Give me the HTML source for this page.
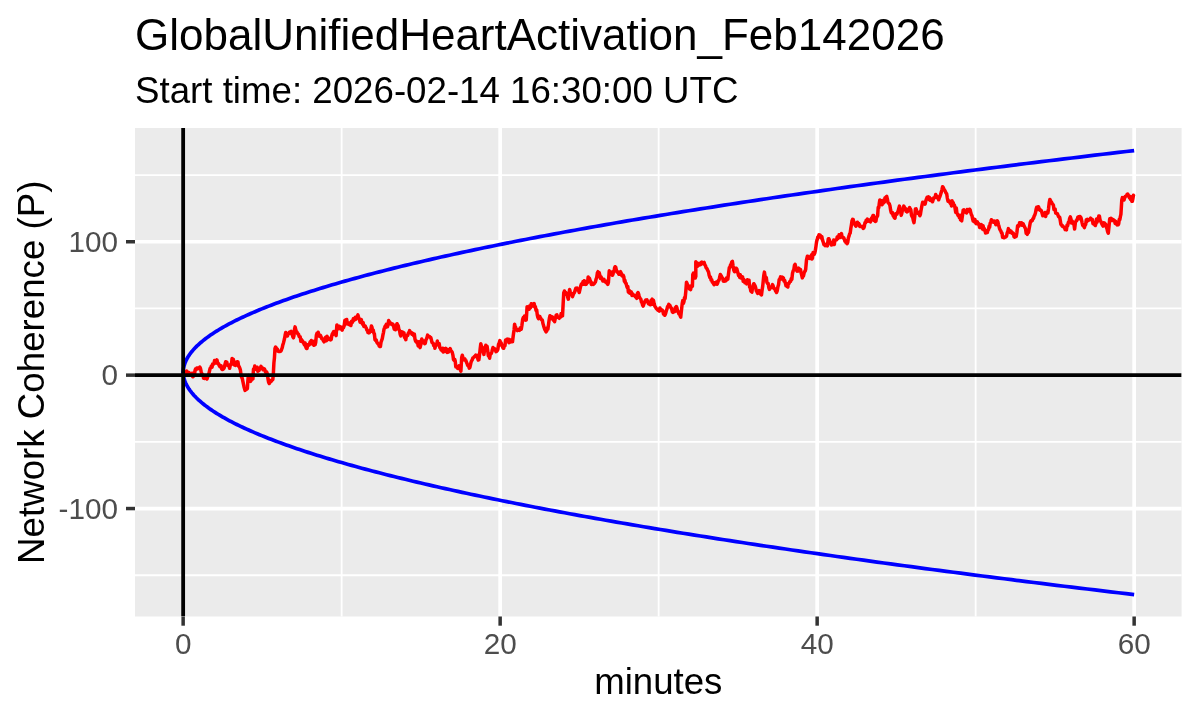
<!DOCTYPE html>
<html><head><meta charset="utf-8"><style>
html,body{margin:0;padding:0;background:#fff;}
svg{display:block;} .wrap{width:1200px;height:720px;will-change:transform;}
text{font-family:"Liberation Sans",sans-serif;}
.ax{font-size:29.7px;fill:#4D4D4D;}
.tt{font-size:44.6px;fill:#000;}
.st{font-size:37.2px;fill:#000;}
</style></head><body>
<div class="wrap"><svg width="1200" height="720" viewBox="0 0 1200 720">
<g>
<rect width="1200" height="720" fill="#fff"/>
<rect x="135.0" y="128.0" width="1046.6" height="488.5" fill="#EBEBEB"/>
<line x1="135.0" x2="1181.6" y1="575.25" y2="575.25" stroke="#fff" stroke-width="1.8"/>
<line x1="135.0" x2="1181.6" y1="441.85" y2="441.85" stroke="#fff" stroke-width="1.8"/>
<line x1="135.0" x2="1181.6" y1="308.45" y2="308.45" stroke="#fff" stroke-width="1.8"/>
<line x1="135.0" x2="1181.6" y1="175.05" y2="175.05" stroke="#fff" stroke-width="1.8"/>
<line y1="128.0" y2="616.5" x1="341.65" x2="341.65" stroke="#fff" stroke-width="1.8"/>
<line y1="128.0" y2="616.5" x1="658.65" x2="658.65" stroke="#fff" stroke-width="1.8"/>
<line y1="128.0" y2="616.5" x1="975.65" x2="975.65" stroke="#fff" stroke-width="1.8"/>
<line x1="135.0" x2="1181.6" y1="508.55" y2="508.55" stroke="#fff" stroke-width="3.7"/>
<line x1="135.0" x2="1181.6" y1="241.75" y2="241.75" stroke="#fff" stroke-width="3.7"/>
<line y1="128.0" y2="616.5" x1="500.15" x2="500.15" stroke="#fff" stroke-width="3.7"/>
<line y1="128.0" y2="616.5" x1="817.15" x2="817.15" stroke="#fff" stroke-width="3.7"/>
<line y1="128.0" y2="616.5" x1="1134.15" x2="1134.15" stroke="#fff" stroke-width="3.7"/>
<defs><clipPath id="cp"><rect x="135.0" y="128.0" width="1046.6" height="488.5"/></clipPath></defs>
<g clip-path="url(#cp)">
<polyline points="183.15,372.80 183.17,371.87 183.22,370.95 183.30,370.02 183.41,369.10 183.56,368.17 183.74,367.24 183.96,366.32 184.21,365.39 184.49,364.47 184.80,363.54 185.15,362.61 185.53,361.69 185.94,360.76 186.39,359.84 186.86,358.91 187.38,357.98 187.92,357.06 188.50,356.13 189.11,355.21 189.75,354.28 190.43,353.35 191.14,352.43 191.88,351.50 192.66,350.58 193.47,349.65 194.31,348.72 195.19,347.80 196.09,346.87 197.04,345.95 198.01,345.02 199.02,344.10 200.06,343.17 201.13,342.24 202.24,341.32 203.38,340.39 204.55,339.47 205.75,338.54 206.99,337.61 208.26,336.69 209.57,335.76 210.90,334.84 212.27,333.91 213.68,332.98 215.11,332.06 216.58,331.13 218.09,330.21 219.62,329.28 221.19,328.35 222.79,327.43 224.43,326.50 226.09,325.58 227.79,324.65 229.53,323.72 231.29,322.80 233.09,321.87 234.93,320.95 236.79,320.02 238.69,319.09 240.62,318.17 242.59,317.24 244.59,316.32 246.62,315.39 248.68,314.46 250.78,313.54 252.91,312.61 255.07,311.69 257.27,310.76 259.49,309.83 261.76,308.91 264.05,307.98 266.38,307.06 268.74,306.13 271.13,305.20 273.56,304.28 276.02,303.35 278.51,302.43 281.04,301.50 283.60,300.57 286.19,299.65 288.82,298.72 291.47,297.80 294.17,296.87 296.89,295.94 299.65,295.02 302.44,294.09 305.26,293.17 308.12,292.24 311.01,291.32 313.93,290.39 316.88,289.46 319.87,288.54 322.89,287.61 325.95,286.69 329.04,285.76 332.16,284.83 335.31,283.91 338.50,282.98 341.72,282.06 344.97,281.13 348.25,280.20 351.57,279.28 354.92,278.35 358.31,277.43 361.73,276.50 365.18,275.57 368.66,274.65 372.18,273.72 375.73,272.80 379.31,271.87 382.93,270.94 386.57,270.02 390.26,269.09 393.97,268.17 397.72,267.24 401.50,266.31 405.31,265.39 409.16,264.46 413.04,263.54 416.95,262.61 420.90,261.68 424.88,260.76 428.89,259.83 432.94,258.91 437.01,257.98 441.13,257.05 445.27,256.13 449.45,255.20 453.66,254.28 457.90,253.35 462.18,252.42 466.49,251.50 470.83,250.57 475.20,249.65 479.61,248.72 484.05,247.79 488.53,246.87 493.03,245.94 497.57,245.02 502.15,244.09 506.75,243.16 511.39,242.24 516.07,241.31 520.77,240.39 525.51,239.46 530.28,238.53 535.09,237.61 539.92,236.68 544.79,235.76 549.70,234.83 554.63,233.91 559.60,232.98 564.61,232.05 569.64,231.13 574.71,230.20 579.81,229.28 584.95,228.35 590.12,227.42 595.32,226.50 600.55,225.57 605.82,224.65 611.12,223.72 616.45,222.79 621.82,221.87 627.21,220.94 632.65,220.02 638.11,219.09 643.61,218.16 649.14,217.24 654.70,216.31 660.30,215.39 665.93,214.46 671.59,213.53 677.29,212.61 683.02,211.68 688.78,210.76 694.58,209.83 700.40,208.90 706.27,207.98 712.16,207.05 718.09,206.13 724.05,205.20 730.04,204.27 736.07,203.35 742.13,202.42 748.22,201.50 754.34,200.57 760.50,199.64 766.69,198.72 772.92,197.79 779.18,196.87 785.47,195.94 791.79,195.01 798.15,194.09 804.54,193.16 810.96,192.24 817.41,191.31 823.90,190.38 830.42,189.46 836.98,188.53 843.57,187.61 850.19,186.68 856.84,185.75 863.53,184.83 870.25,183.90 877.00,182.98 883.79,182.05 890.60,181.13 897.46,180.20 904.34,179.27 911.26,178.35 918.21,177.42 925.19,176.50 932.21,175.57 939.26,174.64 946.34,173.72 953.46,172.79 960.61,171.87 967.79,170.94 975.01,170.01 982.25,169.09 989.54,168.16 996.85,167.24 1004.20,166.31 1011.58,165.38 1018.99,164.46 1026.44,163.53 1033.92,162.61 1041.43,161.68 1048.97,160.75 1056.55,159.83 1064.16,158.90 1071.81,157.98 1079.48,157.05 1087.19,156.12 1094.94,155.20 1102.71,154.27 1110.52,153.35 1118.37,152.42 1126.24,151.49 1134.15,150.57" fill="none" stroke="#0000FF" stroke-width="3.7" stroke-linejoin="round" stroke-linecap="butt"/>
<polyline points="183.15,371.50 183.17,372.43 183.22,373.36 183.30,374.29 183.41,375.22 183.56,376.15 183.74,377.08 183.96,378.01 184.21,378.94 184.49,379.87 184.80,380.80 185.15,381.72 185.53,382.65 185.94,383.58 186.39,384.51 186.86,385.44 187.38,386.37 187.92,387.30 188.50,388.23 189.11,389.16 189.75,390.09 190.43,391.02 191.14,391.95 191.88,392.88 192.66,393.81 193.47,394.74 194.31,395.67 195.19,396.60 196.09,397.53 197.04,398.46 198.01,399.39 199.02,400.31 200.06,401.24 201.13,402.17 202.24,403.10 203.38,404.03 204.55,404.96 205.75,405.89 206.99,406.82 208.26,407.75 209.57,408.68 210.90,409.61 212.27,410.54 213.68,411.47 215.11,412.40 216.58,413.33 218.09,414.26 219.62,415.19 221.19,416.12 222.79,417.05 224.43,417.98 226.09,418.91 227.79,419.83 229.53,420.76 231.29,421.69 233.09,422.62 234.93,423.55 236.79,424.48 238.69,425.41 240.62,426.34 242.59,427.27 244.59,428.20 246.62,429.13 248.68,430.06 250.78,430.99 252.91,431.92 255.07,432.85 257.27,433.78 259.49,434.71 261.76,435.64 264.05,436.57 266.38,437.50 268.74,438.43 271.13,439.35 273.56,440.28 276.02,441.21 278.51,442.14 281.04,443.07 283.60,444.00 286.19,444.93 288.82,445.86 291.47,446.79 294.17,447.72 296.89,448.65 299.65,449.58 302.44,450.51 305.26,451.44 308.12,452.37 311.01,453.30 313.93,454.23 316.88,455.16 319.87,456.09 322.89,457.02 325.95,457.94 329.04,458.87 332.16,459.80 335.31,460.73 338.50,461.66 341.72,462.59 344.97,463.52 348.25,464.45 351.57,465.38 354.92,466.31 358.31,467.24 361.73,468.17 365.18,469.10 368.66,470.03 372.18,470.96 375.73,471.89 379.31,472.82 382.93,473.75 386.57,474.68 390.26,475.61 393.97,476.54 397.72,477.46 401.50,478.39 405.31,479.32 409.16,480.25 413.04,481.18 416.95,482.11 420.90,483.04 424.88,483.97 428.89,484.90 432.94,485.83 437.01,486.76 441.13,487.69 445.27,488.62 449.45,489.55 453.66,490.48 457.90,491.41 462.18,492.34 466.49,493.27 470.83,494.20 475.20,495.13 479.61,496.06 484.05,496.98 488.53,497.91 493.03,498.84 497.57,499.77 502.15,500.70 506.75,501.63 511.39,502.56 516.07,503.49 520.77,504.42 525.51,505.35 530.28,506.28 535.09,507.21 539.92,508.14 544.79,509.07 549.70,510.00 554.63,510.93 559.60,511.86 564.61,512.79 569.64,513.72 574.71,514.65 579.81,515.57 584.95,516.50 590.12,517.43 595.32,518.36 600.55,519.29 605.82,520.22 611.12,521.15 616.45,522.08 621.82,523.01 627.21,523.94 632.65,524.87 638.11,525.80 643.61,526.73 649.14,527.66 654.70,528.59 660.30,529.52 665.93,530.45 671.59,531.38 677.29,532.31 683.02,533.24 688.78,534.17 694.58,535.09 700.40,536.02 706.27,536.95 712.16,537.88 718.09,538.81 724.05,539.74 730.04,540.67 736.07,541.60 742.13,542.53 748.22,543.46 754.34,544.39 760.50,545.32 766.69,546.25 772.92,547.18 779.18,548.11 785.47,549.04 791.79,549.97 798.15,550.90 804.54,551.83 810.96,552.76 817.41,553.69 823.90,554.61 830.42,555.54 836.98,556.47 843.57,557.40 850.19,558.33 856.84,559.26 863.53,560.19 870.25,561.12 877.00,562.05 883.79,562.98 890.60,563.91 897.46,564.84 904.34,565.77 911.26,566.70 918.21,567.63 925.19,568.56 932.21,569.49 939.26,570.42 946.34,571.35 953.46,572.28 960.61,573.20 967.79,574.13 975.01,575.06 982.25,575.99 989.54,576.92 996.85,577.85 1004.20,578.78 1011.58,579.71 1018.99,580.64 1026.44,581.57 1033.92,582.50 1041.43,583.43 1048.97,584.36 1056.55,585.29 1064.16,586.22 1071.81,587.15 1079.48,588.08 1087.19,589.01 1094.94,589.94 1102.71,590.87 1110.52,591.80 1118.37,592.72 1126.24,593.65 1134.15,594.58" fill="none" stroke="#0000FF" stroke-width="3.7" stroke-linejoin="round" stroke-linecap="butt"/>
<polyline points="183.00,375.00 183.60,374.09 184.20,374.41 184.80,372.93 185.40,372.22 186.00,372.00 186.60,370.98 187.20,371.94 187.80,373.63 188.40,372.91 189.00,372.50 189.61,374.29 190.23,373.88 190.84,374.60 191.46,374.89 192.07,373.22 192.69,376.78 193.30,376.30 193.90,375.53 194.50,374.14 195.10,370.13 195.70,368.69 196.30,369.40 196.88,367.95 197.47,368.07 198.05,368.62 198.63,367.81 199.22,368.11 199.80,367.10 200.45,368.33 201.10,371.47 201.75,373.57 202.40,375.10 202.97,374.79 203.55,378.14 204.12,377.23 204.70,378.49 205.28,376.79 205.85,377.14 206.43,378.10 207.00,379.00 207.63,376.96 208.27,375.93 208.90,373.55 209.53,370.80 210.17,368.27 210.80,367.50 211.43,366.01 212.05,367.24 212.68,363.94 213.30,364.34 213.93,363.70 214.55,360.54 215.18,361.52 215.80,360.60 216.38,363.00 216.97,359.85 217.55,362.71 218.13,363.81 218.72,363.79 219.30,365.60 219.92,366.83 220.53,366.79 221.15,365.74 221.77,369.13 222.38,369.57 223.00,369.40 223.68,368.64 224.35,367.33 225.02,364.13 225.70,361.80 226.26,362.87 226.81,362.10 227.37,365.32 227.93,364.78 228.49,365.90 229.04,365.85 229.60,368.30 230.22,365.30 230.84,363.98 231.46,364.33 232.08,358.50 232.70,359.10 233.33,359.38 233.97,363.45 234.60,365.20 235.35,365.43 236.10,362.20 236.72,363.79 237.34,361.72 237.96,361.88 238.58,366.23 239.20,366.70 239.80,368.12 240.40,369.96 241.00,374.77 241.60,377.22 242.20,378.20 242.77,380.96 243.35,383.64 243.93,386.45 244.50,388.50 245.08,390.41 245.66,389.24 246.24,389.12 246.82,389.16 247.40,388.50 247.90,380.12 248.40,375.50 249.15,379.54 249.90,380.50 250.50,381.35 251.10,380.54 251.70,377.23 252.30,378.54 252.90,379.00 253.50,369.00 254.12,369.64 254.75,366.08 255.38,367.65 256.00,367.50 256.60,369.34 257.20,367.17 257.80,371.29 258.40,370.64 259.00,370.60 259.67,369.02 260.33,368.19 261.00,366.40 261.65,367.83 262.30,367.84 262.95,369.72 263.60,369.00 264.22,368.83 264.84,369.74 265.46,372.11 266.08,371.51 266.70,372.10 267.35,373.89 268.00,378.94 268.65,382.41 269.30,383.50 269.88,382.33 270.47,380.58 271.05,381.44 271.63,380.79 272.22,379.98 272.80,379.70 273.35,373.56 273.90,362.82 274.45,357.74 275.00,348.40 275.60,347.08 276.20,347.86 276.80,349.76 277.40,349.20 277.97,351.13 278.55,351.38 279.12,351.34 279.70,351.50 280.40,351.32 281.10,350.80 281.68,349.08 282.25,347.69 282.82,344.89 283.40,343.20 283.97,340.86 284.55,338.54 285.12,335.18 285.70,332.50 286.27,333.79 286.85,333.93 287.43,336.04 288.00,334.00 288.62,333.87 289.24,332.45 289.86,331.99 290.48,331.90 291.10,331.40 291.68,334.11 292.25,334.20 292.82,336.66 293.40,337.80 293.95,335.80 294.50,329.40 295.07,326.90 295.65,329.20 296.23,331.42 296.80,331.70 297.38,333.14 297.95,333.91 298.52,334.07 299.10,336.34 299.68,336.85 300.25,336.85 300.82,341.35 301.40,339.40 302.02,340.96 302.65,341.01 303.27,342.69 303.90,343.68 304.52,345.01 305.15,342.95 305.77,346.78 306.40,348.50 307.03,348.58 307.67,344.83 308.30,345.02 308.93,345.11 309.57,343.86 310.20,341.70 310.81,343.86 311.43,340.41 312.04,342.40 312.65,342.79 313.26,344.32 313.88,345.26 314.49,341.11 315.10,344.70 315.73,342.21 316.37,335.36 317.00,333.30 317.58,334.50 318.17,332.28 318.75,334.66 319.33,336.27 319.92,335.04 320.50,335.60 321.10,336.89 321.70,338.68 322.30,338.95 322.90,339.73 323.50,340.90 324.07,341.79 324.65,340.26 325.23,337.70 325.80,337.10 326.40,340.65 327.00,336.23 327.60,338.96 328.20,337.80 328.80,338.54 329.40,339.48 330.00,339.16 330.60,339.91 331.20,339.40 331.77,335.64 332.35,333.74 332.93,334.36 333.50,331.70 334.15,331.52 334.80,332.42 335.45,332.86 336.10,335.60 336.90,324.90 337.48,327.05 338.07,327.06 338.65,328.57 339.23,326.31 339.82,328.07 340.40,328.70 341.00,327.17 341.60,329.30 342.20,330.13 342.80,326.99 343.40,327.90 344.15,325.97 344.90,320.30 345.50,322.00 346.10,321.11 346.70,319.47 347.30,324.03 347.90,322.74 348.50,322.64 349.10,324.36 349.70,324.88 350.30,324.90 350.90,325.48 351.50,321.24 352.10,322.60 352.70,321.80 353.30,318.80 353.92,320.38 354.54,318.26 355.16,317.43 355.78,319.38 356.40,318.00 357.15,316.59 357.90,314.90 358.65,317.35 359.40,319.50 360.04,322.19 360.68,321.14 361.32,319.68 361.96,322.96 362.60,324.40 363.22,322.72 363.84,326.46 364.46,326.40 365.08,325.83 365.70,327.10 366.27,328.04 366.83,330.00 367.40,330.04 367.97,332.49 368.53,331.78 369.10,332.80 369.68,332.35 370.25,331.19 370.82,329.63 371.40,326.00 372.00,327.27 372.60,331.20 373.20,329.96 373.80,332.99 374.40,334.00 375.00,339.71 375.60,340.50 376.20,339.89 376.80,342.23 377.40,342.88 378.00,343.95 378.60,344.15 379.20,346.01 379.80,346.60 380.42,346.45 381.04,342.05 381.66,340.34 382.28,338.60 382.90,335.10 383.47,332.59 384.05,329.04 384.62,327.61 385.20,326.00 385.77,327.46 386.35,324.37 386.93,325.81 387.50,326.70 388.05,324.86 388.60,320.60 389.22,322.31 389.84,322.13 390.46,323.85 391.08,323.84 391.70,324.40 392.33,323.89 392.97,324.32 393.60,326.33 394.23,329.11 394.87,328.22 395.50,329.80 396.25,325.67 397.00,323.70 397.63,324.81 398.27,325.93 398.90,329.66 399.53,330.42 400.17,334.30 400.80,335.90 401.43,331.80 402.07,333.76 402.70,332.10 403.32,332.85 403.94,332.81 404.56,337.53 405.18,337.85 405.80,339.70 406.43,335.51 407.07,335.62 407.70,335.50 408.33,333.08 408.97,333.05 409.60,330.60 410.18,332.00 410.77,332.40 411.35,332.49 411.93,334.20 412.52,333.89 413.10,333.60 413.73,335.67 414.37,334.17 415.00,339.28 415.63,341.30 416.27,340.91 416.90,342.80 417.53,342.62 418.17,345.90 418.80,341.84 419.43,344.90 420.07,347.63 420.70,345.10 421.25,340.94 421.80,339.00 422.38,340.53 422.97,342.66 423.55,340.96 424.13,342.47 424.72,343.58 425.30,343.20 425.88,340.09 426.45,339.04 427.03,337.48 427.60,335.10 428.25,336.67 428.90,336.21 429.55,336.59 430.20,337.40 430.78,337.53 431.37,339.67 431.95,342.52 432.53,342.92 433.12,343.13 433.70,345.50 434.30,344.22 434.90,348.15 435.50,346.04 436.10,344.40 436.72,345.02 437.34,341.01 437.96,344.73 438.58,344.42 439.20,343.70 439.83,347.75 440.47,348.28 441.10,349.80 441.67,349.97 442.23,350.93 442.80,348.22 443.37,352.04 443.93,351.44 444.50,351.30 445.10,348.96 445.70,348.30 446.35,350.84 447.00,352.37 447.65,349.47 448.30,352.10 448.93,350.13 449.57,350.12 450.20,348.60 450.88,350.45 451.55,351.37 452.22,352.31 452.90,355.10 453.48,359.56 454.07,360.18 454.65,359.42 455.23,361.15 455.82,366.73 456.40,366.60 457.05,367.59 457.70,368.39 458.35,366.97 459.00,365.80 459.63,366.55 460.27,369.71 460.90,371.20 461.70,357.40 462.30,355.25 462.90,357.39 463.50,358.66 464.10,359.80 464.70,358.74 465.30,359.91 465.90,360.50 466.47,362.32 467.03,363.49 467.60,365.07 468.17,365.82 468.73,366.44 469.30,368.10 469.88,367.40 470.47,364.86 471.05,362.16 471.63,360.75 472.22,359.85 472.80,358.20 473.40,357.45 474.00,357.15 474.60,356.34 475.20,355.93 475.80,355.10 476.42,355.86 477.04,355.43 477.66,358.37 478.28,360.04 478.90,359.70 479.53,354.89 480.17,348.81 480.80,343.70 481.42,346.38 482.04,346.82 482.66,347.84 483.28,352.33 483.90,354.40 484.53,350.22 485.17,349.15 485.80,345.20 486.43,346.07 487.07,346.38 487.70,350.45 488.33,355.76 488.97,355.58 489.60,358.20 490.17,354.77 490.73,353.72 491.30,353.48 491.87,351.66 492.43,349.50 493.00,347.50 493.60,349.72 494.20,349.23 494.80,348.80 495.40,349.99 496.00,351.70 496.60,351.32 497.20,350.60 497.88,349.33 498.55,344.30 499.22,342.92 499.90,340.60 500.53,342.76 501.17,342.81 501.80,345.73 502.43,346.45 503.07,348.11 503.70,348.30 504.33,345.25 504.97,345.76 505.60,339.90 506.28,341.21 506.95,339.29 507.62,339.48 508.30,339.20 508.90,342.67 509.50,339.50 510.10,341.32 510.70,341.81 511.30,340.99 511.90,339.94 512.50,341.70 513.02,337.55 513.55,333.38 514.08,329.93 514.60,324.20 515.12,326.59 515.65,327.13 516.18,329.57 516.70,330.00 517.27,330.55 517.84,330.05 518.41,329.77 518.98,329.31 519.54,330.32 520.11,328.13 520.68,328.55 521.25,329.20 521.93,325.31 522.62,319.64 523.30,317.50 523.89,317.48 524.48,316.09 525.07,318.18 525.66,320.18 526.25,320.00 527.10,306.70 527.62,308.00 528.15,307.88 528.68,308.30 529.20,309.20 529.88,305.68 530.57,307.76 531.25,303.75 531.84,304.79 532.44,305.90 533.03,303.96 533.62,305.21 534.21,303.67 534.81,307.22 535.40,306.70 536.02,310.52 536.65,309.82 537.27,314.74 537.90,317.50 538.53,318.67 539.17,316.22 539.80,316.56 540.43,317.89 541.07,318.83 541.70,320.00 542.32,320.05 542.93,323.50 543.55,325.50 544.17,327.69 544.78,329.51 545.40,330.40 546.02,331.90 546.65,331.20 547.27,327.93 547.90,329.20 548.42,325.24 548.95,321.23 549.48,317.86 550.00,315.80 550.58,316.44 551.15,317.28 551.73,318.60 552.30,316.85 552.88,318.00 553.45,320.20 554.02,320.72 554.60,321.70 555.15,319.09 555.70,317.16 556.25,315.00 556.84,314.75 557.43,317.16 558.02,317.41 558.61,317.53 559.20,318.30 559.86,316.99 560.52,317.09 561.18,313.53 561.84,315.12 562.50,315.80 563.12,304.39 563.75,292.90 564.43,290.96 565.12,292.87 565.80,292.50 566.42,294.35 567.05,294.20 567.67,297.22 568.30,299.20 568.95,294.02 569.60,289.60 570.18,291.57 570.76,293.17 571.34,293.82 571.92,294.26 572.50,296.70 573.16,294.85 573.82,293.26 574.48,292.54 575.14,290.33 575.80,288.30 576.37,288.13 576.93,288.07 577.50,289.95 578.07,290.21 578.63,290.47 579.20,292.50 579.90,289.59 580.60,286.38 581.30,284.20 581.89,283.65 582.48,283.47 583.07,281.66 583.66,284.27 584.25,280.80 584.93,281.55 585.62,284.39 586.30,284.20 586.92,282.87 587.55,282.59 588.17,276.92 588.80,278.30 589.43,278.23 590.07,280.26 590.70,281.52 591.33,284.44 591.97,282.85 592.60,283.30 593.18,284.52 593.76,283.58 594.34,283.48 594.92,282.63 595.50,281.70 596.12,279.01 596.75,277.31 597.38,272.91 598.00,271.70 598.60,274.19 599.20,272.62 599.80,275.21 600.40,278.53 601.00,276.79 601.60,278.15 602.20,279.20 602.82,281.01 603.43,280.06 604.05,279.48 604.67,281.18 605.28,281.98 605.90,281.70 606.52,282.75 607.15,281.17 607.77,284.40 608.40,282.50 609.25,270.80 609.88,273.37 610.50,271.96 611.12,272.82 611.75,272.55 612.38,275.33 613.00,274.20 613.52,271.48 614.05,271.26 614.58,268.00 615.10,266.70 615.72,267.12 616.33,270.06 616.95,272.05 617.57,271.69 618.18,272.14 618.80,274.20 619.37,274.34 619.93,272.47 620.50,271.70 621.16,273.07 621.82,275.53 622.48,276.06 623.14,275.08 623.80,276.70 624.37,281.24 624.93,280.30 625.50,283.04 626.07,283.12 626.63,285.65 627.20,287.50 627.78,286.56 628.36,291.96 628.94,292.62 629.52,290.68 630.10,293.30 630.72,291.78 631.33,291.92 631.95,295.56 632.57,293.88 633.18,294.64 633.80,295.00 634.39,295.28 634.98,296.17 635.57,295.67 636.16,297.67 636.75,298.30 637.38,293.67 638.00,292.50 638.58,293.98 639.15,296.00 639.73,297.75 640.30,298.47 640.88,299.23 641.45,302.07 642.02,302.86 642.60,305.00 643.22,306.05 643.83,304.25 644.45,302.36 645.07,301.10 645.68,299.99 646.30,300.00 646.89,299.72 647.48,301.26 648.07,302.87 648.66,303.98 649.25,304.20 649.84,303.88 650.43,304.72 651.02,300.35 651.61,300.22 652.20,299.20 652.83,304.20 653.45,300.26 654.08,303.52 654.70,305.80 655.28,306.84 655.86,307.67 656.44,308.81 657.02,308.87 657.60,310.00 658.19,310.50 658.77,310.18 659.36,311.10 659.94,307.96 660.53,309.22 661.11,310.34 661.70,310.40 662.30,310.14 662.90,311.11 663.50,314.09 664.10,313.54 664.70,315.30 665.28,314.30 665.86,312.67 666.44,310.39 667.02,308.87 667.60,306.50 668.20,306.12 668.80,304.31 669.40,305.71 670.00,305.50 670.58,307.41 671.16,307.58 671.74,309.46 672.32,311.84 672.90,312.30 673.47,310.28 674.03,311.13 674.60,311.64 675.17,307.77 675.73,307.64 676.30,306.50 676.93,307.85 677.56,311.41 678.19,311.47 678.81,313.69 679.44,313.31 680.07,315.65 680.70,317.20 681.45,310.39 682.20,303.60 682.78,300.49 683.36,303.37 683.94,301.74 684.52,297.58 685.10,298.70 685.80,291.34 686.50,282.20 687.08,283.40 687.66,285.46 688.24,286.72 688.82,285.84 689.40,289.00 690.00,288.17 690.60,289.63 691.20,286.57 691.80,285.45 692.40,286.10 692.80,274.40 693.40,273.17 694.00,273.73 694.60,276.00 695.20,278.03 695.80,276.40 695.80,261.80 696.38,262.90 696.96,263.25 697.54,266.22 698.12,263.50 698.70,264.70 699.30,263.65 699.90,264.86 700.50,264.65 701.10,262.53 701.70,262.11 702.30,263.62 702.90,263.33 703.50,262.80 704.15,262.37 704.80,264.82 705.45,265.55 706.10,267.89 706.75,268.33 707.40,269.60 708.01,271.07 708.62,272.33 709.24,275.59 709.85,277.57 710.46,277.03 711.07,280.07 711.69,279.72 712.30,282.20 712.90,282.54 713.50,283.60 714.10,284.77 714.70,282.74 715.30,283.36 715.90,283.94 716.50,282.15 717.10,284.20 717.75,282.75 718.40,280.46 719.05,280.25 719.70,276.98 720.35,274.49 721.00,275.40 721.58,276.61 722.16,278.03 722.74,278.22 723.32,281.11 723.90,281.20 724.55,280.56 725.20,279.84 725.85,280.82 726.50,278.05 727.15,278.80 727.80,279.30 728.55,273.43 729.30,267.60 729.92,267.38 730.54,264.92 731.16,264.25 731.78,261.85 732.40,261.40 733.10,266.11 733.80,270.10 734.42,271.62 735.05,268.33 735.67,271.51 736.30,268.20 736.87,268.96 737.43,271.29 738.00,273.01 738.57,275.56 739.13,274.38 739.70,277.40 740.28,274.78 740.86,277.93 741.44,278.05 742.02,277.75 742.60,276.90 743.18,281.24 743.76,279.51 744.34,280.74 744.92,282.74 745.50,282.80 746.10,282.74 746.70,283.80 747.30,279.81 747.90,280.80 748.47,282.13 749.03,280.23 749.60,287.12 750.17,287.49 750.73,290.83 751.30,291.50 751.92,292.13 752.55,287.59 753.17,285.34 753.80,283.70 754.43,284.72 755.07,285.93 755.70,287.79 756.33,290.93 756.97,291.83 757.60,293.40 758.35,292.03 759.10,290.50 759.70,291.39 760.30,293.80 760.90,294.39 761.50,294.90 762.08,290.17 762.66,286.58 763.24,281.04 763.82,275.28 764.40,272.10 765.03,276.06 765.66,277.09 766.29,277.59 766.91,282.25 767.54,283.59 768.17,283.51 768.80,287.60 769.43,289.33 770.06,287.60 770.69,288.07 771.31,287.04 771.94,286.42 772.57,284.54 773.20,286.20 773.77,288.42 774.33,288.34 774.90,289.01 775.47,290.82 776.03,291.54 776.60,292.50 777.25,290.71 777.90,286.85 778.55,284.66 779.20,279.53 779.85,278.99 780.50,276.90 781.08,277.91 781.66,278.90 782.24,277.06 782.82,277.55 783.40,277.90 784.05,281.25 784.70,280.41 785.35,283.13 786.00,285.71 786.65,285.20 787.30,286.60 787.86,286.97 788.41,283.55 788.97,283.55 789.53,282.11 790.09,281.24 790.64,281.36 791.20,278.90 791.85,279.33 792.50,273.23 793.15,270.91 793.80,269.76 794.45,265.47 795.10,264.30 795.73,267.16 796.37,269.52 797.00,271.10 797.58,270.39 798.16,270.98 798.74,268.10 799.32,270.49 799.90,269.20 800.50,269.52 801.10,272.71 801.70,275.06 802.30,277.90 802.87,275.97 803.43,276.03 804.00,273.65 804.57,271.62 805.13,271.30 805.70,269.20 806.50,260.00 807.40,256.20 807.97,258.26 808.53,256.54 809.10,257.14 809.67,258.35 810.23,257.35 810.80,257.20 811.36,255.10 811.91,259.07 812.47,258.18 813.03,252.59 813.59,254.37 814.14,254.36 814.70,253.30 815.33,250.56 815.97,246.30 816.60,241.60 817.20,239.57 817.80,236.94 818.40,236.62 819.00,234.80 819.57,236.86 820.13,235.13 820.70,236.02 821.27,238.04 821.83,236.56 822.40,239.70 823.15,241.84 823.90,244.60 824.47,244.31 825.03,245.61 825.60,244.46 826.17,244.47 826.73,245.29 827.30,246.00 827.80,242.29 828.30,238.70 828.91,238.75 829.53,240.40 830.14,242.13 830.76,243.49 831.37,244.96 831.99,242.82 832.60,244.60 833.17,243.28 833.73,239.99 834.30,244.43 834.87,240.46 835.43,240.48 836.00,239.70 836.61,239.78 837.23,236.97 837.84,238.61 838.45,237.47 839.06,234.76 839.67,236.75 840.29,237.28 840.90,235.30 841.48,233.56 842.06,237.27 842.64,237.05 843.22,237.87 843.80,237.80 844.37,239.30 844.93,241.30 845.50,240.43 846.07,242.71 846.63,242.14 847.20,243.60 847.80,242.05 848.40,237.77 849.00,236.19 849.60,233.90 850.20,233.06 850.80,228.59 851.40,224.95 852.00,220.85 852.60,219.30 853.17,219.49 853.73,221.80 854.30,223.83 854.87,224.34 855.43,225.60 856.00,226.10 856.70,224.10 857.40,222.20 857.98,224.60 858.56,223.29 859.14,223.88 859.72,226.39 860.30,226.10 860.87,226.49 861.43,226.40 862.00,226.36 862.57,227.06 863.13,228.43 863.70,228.00 864.33,226.50 864.95,222.70 865.58,222.74 866.20,220.30 866.80,220.51 867.40,219.10 868.00,221.23 868.60,219.96 869.20,219.90 869.80,221.25 870.40,221.88 871.00,220.30 871.67,217.84 872.33,217.56 873.00,215.40 873.58,215.51 874.16,220.50 874.74,218.29 875.32,221.47 875.90,221.20 876.48,217.70 877.06,216.73 877.64,215.70 878.22,207.27 878.80,207.60 879.30,203.23 879.80,199.90 880.38,201.05 880.97,200.89 881.55,200.75 882.13,204.68 882.72,202.75 883.30,203.20 883.87,200.09 884.43,201.96 885.00,197.73 885.57,200.05 886.13,196.84 886.70,196.40 887.35,198.84 888.00,202.45 888.65,203.34 889.30,203.80 889.95,205.70 890.60,210.00 891.23,212.59 891.86,213.23 892.49,212.54 893.11,215.72 893.74,216.45 894.37,217.81 895.00,218.20 895.65,213.79 896.30,214.44 896.95,214.18 897.60,212.28 898.25,210.76 898.90,208.00 899.48,206.13 900.06,210.36 900.64,211.83 901.22,215.38 901.80,213.40 902.47,209.82 903.13,208.14 903.80,206.10 904.37,207.11 904.93,209.10 905.50,208.47 906.07,211.34 906.63,209.99 907.20,211.90 907.80,211.15 908.40,209.12 909.00,208.86 909.60,207.60 910.23,208.91 910.86,209.97 911.49,215.34 912.11,216.54 912.74,217.64 913.37,220.70 914.00,222.60 914.70,216.99 915.40,209.00 916.03,208.80 916.66,210.81 917.29,212.56 917.91,213.52 918.54,213.45 919.17,212.30 919.80,215.80 920.38,214.57 920.96,210.75 921.54,207.66 922.12,204.59 922.70,202.20 923.30,203.02 923.90,202.69 924.50,202.47 925.10,204.20 925.77,201.05 926.43,198.95 927.10,197.40 927.70,197.09 928.30,196.86 928.90,199.44 929.50,197.53 930.10,200.32 930.70,198.73 931.30,200.80 931.90,200.80 932.53,201.75 933.16,199.64 933.79,197.82 934.41,198.06 935.04,197.48 935.67,194.52 936.30,195.90 936.90,196.15 937.50,198.05 938.10,198.26 938.70,199.80 939.35,197.71 940.00,196.31 940.65,194.17 941.30,192.15 941.95,189.59 942.60,186.70 943.17,187.40 943.73,188.78 944.30,189.52 944.87,190.52 945.43,191.73 946.00,193.00 946.67,193.66 947.33,198.07 948.00,201.20 948.58,201.56 949.16,200.81 949.74,202.34 950.32,203.38 950.90,202.95 951.48,206.03 952.06,200.80 952.64,204.07 953.22,202.52 953.80,205.10 954.50,205.30 955.10,208.40 955.70,212.33 956.30,208.07 956.90,213.00 957.50,214.13 958.10,215.57 958.70,215.56 959.30,217.56 959.90,215.18 960.50,219.87 961.10,220.27 961.70,220.80 962.45,215.48 963.20,210.10 963.77,209.88 964.33,211.83 964.90,210.97 965.47,212.30 966.03,211.90 966.60,213.00 967.18,209.54 967.76,211.44 968.34,210.96 968.92,210.87 969.50,209.20 970.11,209.72 970.73,212.31 971.34,214.67 971.95,215.67 972.56,218.57 973.17,221.04 973.79,219.13 974.40,221.80 974.98,219.49 975.56,222.83 976.14,223.64 976.72,222.91 977.30,221.80 977.88,223.94 978.46,223.38 979.04,224.42 979.62,227.51 980.20,227.60 980.78,226.13 981.36,224.66 981.94,225.26 982.52,229.07 983.10,225.70 983.73,229.83 984.35,228.53 984.98,230.30 985.60,233.00 986.18,232.60 986.76,230.74 987.34,232.53 987.92,230.19 988.50,229.60 989.08,226.34 989.66,227.25 990.24,223.02 990.82,222.03 991.40,219.80 992.03,220.48 992.66,220.82 993.29,222.29 993.91,221.77 994.54,221.09 995.17,221.35 995.80,224.70 996.50,221.23 997.20,220.80 997.80,221.72 998.40,224.44 999.00,226.37 999.60,228.80 1000.20,230.11 1000.80,230.85 1001.40,232.78 1002.00,232.92 1002.60,237.30 1003.17,237.03 1003.73,237.75 1004.30,237.74 1004.87,236.89 1005.43,236.76 1006.00,236.90 1006.60,235.95 1007.20,232.77 1007.80,231.56 1008.40,228.60 1009.05,230.10 1009.70,230.46 1010.35,232.57 1011.00,231.11 1011.65,232.17 1012.30,233.40 1012.86,232.86 1013.41,233.30 1013.97,236.55 1014.53,237.23 1015.09,235.57 1015.64,236.65 1016.20,236.40 1016.90,232.46 1017.60,225.70 1018.25,226.19 1018.90,226.18 1019.55,222.73 1020.20,223.00 1020.85,223.83 1021.50,222.80 1022.10,225.25 1022.70,224.37 1023.30,223.94 1023.90,225.70 1024.47,226.72 1025.03,227.81 1025.60,229.02 1026.17,233.30 1026.73,232.20 1027.30,234.40 1027.90,232.16 1028.50,232.46 1029.10,229.02 1029.70,225.74 1030.30,222.33 1030.90,220.80 1031.55,220.33 1032.20,220.81 1032.85,218.65 1033.50,218.45 1034.15,216.08 1034.80,215.00 1035.43,213.02 1036.07,209.56 1036.70,207.20 1037.30,208.11 1037.90,209.56 1038.50,206.68 1039.10,208.72 1039.70,209.20 1040.31,210.32 1040.93,210.17 1041.54,211.32 1042.16,213.46 1042.77,215.74 1043.39,214.93 1044.00,215.00 1044.56,215.11 1045.11,212.57 1045.67,216.46 1046.23,213.95 1046.79,213.53 1047.34,211.94 1047.90,213.00 1048.57,208.40 1049.23,202.62 1049.90,199.40 1050.48,200.47 1051.06,201.92 1051.64,202.38 1052.22,203.66 1052.80,204.30 1053.38,205.02 1053.96,209.50 1054.54,208.74 1055.12,209.08 1055.70,213.00 1056.27,213.42 1056.83,213.38 1057.40,213.74 1057.97,215.17 1058.53,216.60 1059.10,216.90 1059.70,217.43 1060.30,220.63 1060.90,224.46 1061.50,224.70 1062.11,226.18 1062.72,225.84 1063.34,226.84 1063.95,227.21 1064.56,227.96 1065.18,229.55 1065.79,229.23 1066.40,230.00 1067.05,224.93 1067.70,225.61 1068.35,222.38 1069.00,222.05 1069.65,218.35 1070.30,216.90 1070.91,218.82 1071.53,223.00 1072.14,220.87 1072.76,222.52 1073.37,223.92 1073.99,224.48 1074.60,229.10 1075.35,222.70 1076.10,220.80 1076.73,220.68 1077.36,218.92 1077.99,216.89 1078.61,216.79 1079.24,218.75 1079.87,216.53 1080.50,216.90 1081.06,217.99 1081.61,220.35 1082.17,223.11 1082.73,225.34 1083.29,225.78 1083.84,226.24 1084.40,227.60 1085.03,225.22 1085.67,224.56 1086.30,219.80 1086.91,221.50 1087.53,219.40 1088.14,220.31 1088.75,220.09 1089.36,219.80 1089.97,219.12 1090.59,218.12 1091.20,219.70 1091.80,219.96 1092.40,219.65 1093.00,223.87 1093.60,223.94 1094.20,222.75 1094.80,225.10 1095.37,225.49 1095.94,223.60 1096.51,218.95 1097.09,222.17 1097.66,219.64 1098.23,219.86 1098.80,216.10 1099.40,216.12 1100.00,219.74 1100.60,221.11 1101.20,222.34 1101.80,223.81 1102.40,225.10 1103.08,226.14 1103.75,222.86 1104.42,222.93 1105.10,224.20 1105.74,224.33 1106.38,227.13 1107.02,228.87 1107.66,231.84 1108.30,233.20 1109.00,226.32 1109.70,218.80 1110.30,218.99 1110.90,218.29 1111.50,218.72 1112.10,220.54 1112.70,220.47 1113.30,219.70 1113.91,220.45 1114.53,220.56 1115.14,223.44 1115.75,221.49 1116.36,223.60 1116.97,224.83 1117.59,223.76 1118.20,224.70 1118.74,223.61 1119.28,219.20 1119.82,219.68 1120.36,216.62 1120.90,214.30 1121.80,199.90 1122.36,197.64 1122.92,199.98 1123.48,197.75 1124.04,200.00 1124.60,198.10 1125.22,196.47 1125.84,196.26 1126.46,195.98 1127.08,194.42 1127.70,194.00 1128.29,195.34 1128.87,195.39 1129.46,197.89 1130.04,198.12 1130.63,199.40 1131.21,196.87 1131.80,201.20 1132.35,201.34 1132.90,198.74 1133.45,195.31 1134.00,196.20" fill="none" stroke="#FF0000" stroke-width="3.5" stroke-linejoin="round" stroke-linecap="butt"/>
<line x1="135.0" x2="1181.6" y1="375.15" y2="375.15" stroke="#000" stroke-width="3.8"/>
<line y1="128.0" y2="616.5" x1="183.15" x2="183.15" stroke="#000" stroke-width="3.8"/>
</g>
<line x1="126" x2="135.0" y1="508.55" y2="508.55" stroke="#333" stroke-width="3.5"/>
<line x1="126" x2="135.0" y1="375.15" y2="375.15" stroke="#333" stroke-width="3.5"/>
<line x1="126" x2="135.0" y1="241.75" y2="241.75" stroke="#333" stroke-width="3.5"/>
<line y1="616.5" y2="625.7" x1="183.15" x2="183.15" stroke="#333" stroke-width="3.5"/>
<line y1="616.5" y2="625.7" x1="500.15" x2="500.15" stroke="#333" stroke-width="3.5"/>
<line y1="616.5" y2="625.7" x1="817.15" x2="817.15" stroke="#333" stroke-width="3.5"/>
<line y1="616.5" y2="625.7" x1="1134.15" x2="1134.15" stroke="#333" stroke-width="3.5"/>
<text x="118" y="251.95" text-anchor="end" class="ax">100</text>
<text x="118" y="385.35" text-anchor="end" class="ax">0</text>
<text x="118" y="518.75" text-anchor="end" class="ax">-100</text>
<text x="183.15" y="654" text-anchor="middle" class="ax">0</text>
<text x="500.15" y="654" text-anchor="middle" class="ax">20</text>
<text x="817.15" y="654" text-anchor="middle" class="ax">40</text>
<text x="1134.15" y="654" text-anchor="middle" class="ax">60</text>
<text x="135" y="50.1" class="tt" textLength="809.6" lengthAdjust="spacingAndGlyphs">GlobalUnifiedHeartActivation_Feb142026</text>
<text x="135" y="102.7" class="st" textLength="603.4" lengthAdjust="spacingAndGlyphs">Start time: 2026-02-14 16:30:00 UTC</text>
<text x="658.25" y="694.3" text-anchor="middle" class="st" textLength="128.2" lengthAdjust="spacingAndGlyphs">minutes</text>
<text transform="translate(43.9,372.25) rotate(-90)" text-anchor="middle" class="st" textLength="383.4" lengthAdjust="spacingAndGlyphs">Network Coherence (P)</text>
</g>
</svg></div>
</body></html>
